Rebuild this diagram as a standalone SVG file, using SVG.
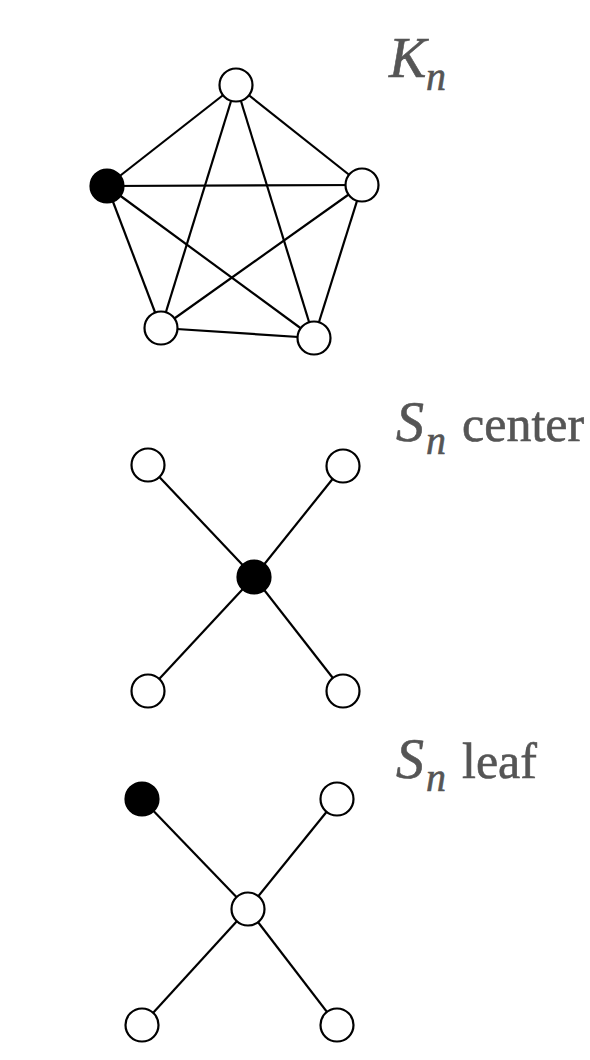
<svg xmlns="http://www.w3.org/2000/svg" width="590" height="1060" viewBox="0 0 590 1060">
<style>
.e{stroke:#000;stroke-width:2.2;fill:none}
.n{fill:#fff;stroke:#000;stroke-width:2.2}
.b{fill:#000;stroke:#000;stroke-width:2.2}
.t{font-family:"Liberation Serif",serif;fill:#555;stroke:#555;stroke-width:0.6;font-size:50px}
.i{font-style:italic;font-size:56px}
.s{font-style:italic;font-size:40px}
</style>
<rect width="590" height="1060" fill="#fff"/>
<g id="connectors">
<g class="e">
<line x1="236" y1="85" x2="107" y2="186"/>
<line x1="236" y1="85" x2="362" y2="185"/>
<line x1="236" y1="85" x2="161" y2="328"/>
<line x1="236" y1="85" x2="314" y2="338"/>
<line x1="107" y1="186" x2="362" y2="185"/>
<line x1="107" y1="186" x2="161" y2="328"/>
<line x1="107" y1="186" x2="314" y2="338"/>
<line x1="362" y1="185" x2="161" y2="328"/>
<line x1="362" y1="185" x2="314" y2="338"/>
<line x1="161" y1="328" x2="314" y2="338"/>
<line x1="254" y1="577" x2="148" y2="465"/>
<line x1="254" y1="577" x2="343" y2="466"/>
<line x1="254" y1="577" x2="148" y2="691"/>
<line x1="254" y1="577" x2="343" y2="691"/>
<line x1="248" y1="909" x2="142" y2="799"/>
<line x1="248" y1="909" x2="337" y2="799"/>
<line x1="248" y1="909" x2="142" y2="1025"/>
<line x1="248" y1="909" x2="337" y2="1025"/>
</g>
</g>
<g id="kn-top"><circle class="n" cx="236" cy="85" r="16.5"/></g>
<g id="kn-left"><circle class="b" cx="107" cy="186" r="16.5"/></g>
<g id="kn-right"><circle class="n" cx="362" cy="185" r="16.5"/></g>
<g id="kn-bl"><circle class="n" cx="161" cy="328" r="16.5"/></g>
<g id="kn-br"><circle class="n" cx="314" cy="338" r="16.5"/></g>
<g id="sc-center"><circle class="b" cx="254" cy="577" r="16.5"/></g>
<g id="sc-tl"><circle class="n" cx="148" cy="465" r="16.5"/></g>
<g id="sc-tr"><circle class="n" cx="343" cy="466" r="16.5"/></g>
<g id="sc-bl"><circle class="n" cx="148" cy="691" r="16.5"/></g>
<g id="sc-br"><circle class="n" cx="343" cy="691" r="16.5"/></g>
<g id="sl-center"><circle class="n" cx="248" cy="909" r="16.5"/></g>
<g id="sl-tl"><circle class="b" cx="142" cy="799" r="16.5"/></g>
<g id="sl-tr"><circle class="n" cx="337" cy="799" r="16.5"/></g>
<g id="sl-bl"><circle class="n" cx="142" cy="1025" r="16.5"/></g>
<g id="sl-br"><circle class="n" cx="337" cy="1025" r="16.5"/></g>
<g id="label-kn">
<text class="t i" x="389" y="77">K</text>
<text class="t s" x="426" y="90">n</text>
</g>
<g id="label-sc">
<text class="t i" x="396" y="441">S</text>
<text class="t s" x="426" y="454">n</text>
<text class="t" x="462" y="441">center</text>
</g>
<g id="label-sl">
<text class="t i" x="396" y="778">S</text>
<text class="t s" x="426" y="791">n</text>
<text class="t" x="462" y="778">leaf</text>
</g>
</svg>
